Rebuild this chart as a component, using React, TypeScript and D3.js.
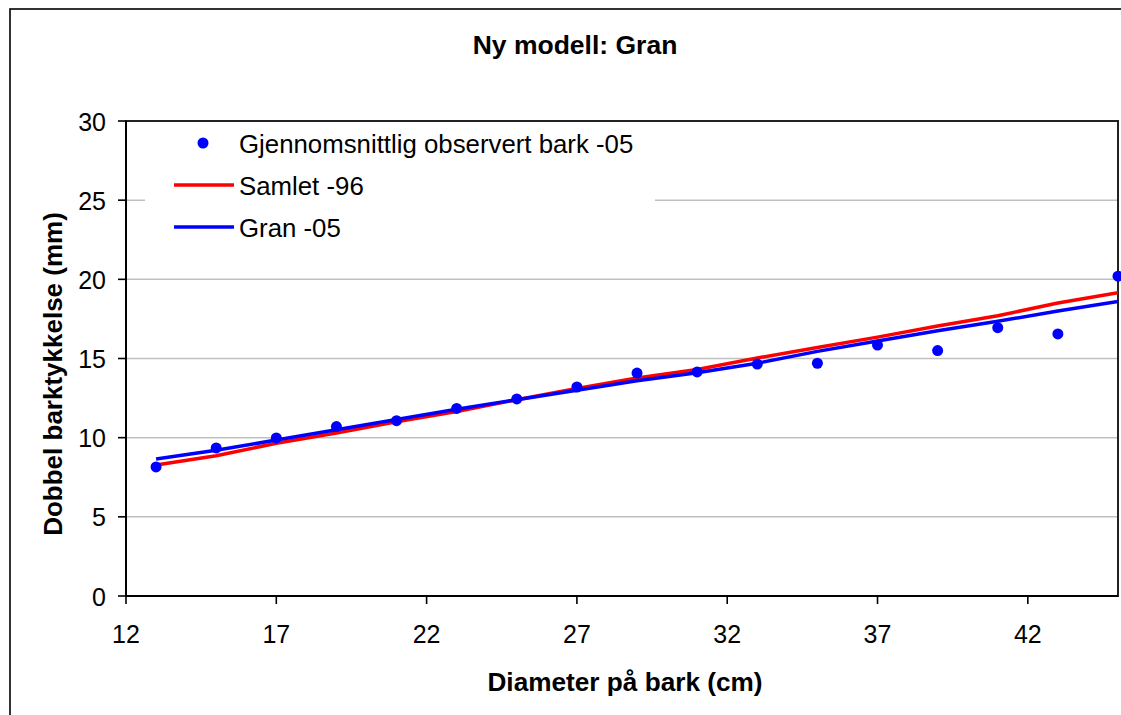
import React from "react";
import * as d3 from "d3";

const diameters = [13, 15, 17, 19, 21, 23, 25, 27, 29, 31, 33, 35, 37, 39, 41, 43, 45];
const observed = [8.15, 9.35, 9.98, 10.7, 11.07, 11.85, 12.45, 13.2, 14.08, 14.15, 14.65, 14.7, 15.85, 15.5, 16.95, 16.55, 20.2];
const samlet96 = [8.27, 8.86, 9.65, 10.3, 11.0, 11.65, 12.4, 13.1, 13.77, 14.3, 15.03, 15.7, 16.35, 17.05, 17.7, 18.5, 19.15];
const gran05 = [8.65, 9.2, 9.85, 10.5, 11.15, 11.8, 12.4, 13.0, 13.6, 14.1, 14.7, 15.45, 16.1, 16.75, 17.35, 18.0, 18.6];
const xTicks = [12, 17, 22, 27, 32, 37, 42];
const yTicks = [0, 5, 10, 15, 20, 25, 30];
const legendLabels = ["Gjennomsnittlig observert bark -05", "Samlet -96", "Gran -05"];

const FONT = "'Liberation Sans', Arial, sans-serif";

export default function App() {
  const W = 1121, H = 715;
  const left = 126, right = 1118, top = 121, bottom = 596;
  const x = d3.scaleLinear().domain([12, 45]).range([left, right]);
  const y = d3.scaleLinear().domain([0, 30]).range([bottom, top]);
  const line = d3.line<number>().x((_, i) => x(diameters[i])).y((d) => y(d));

  return (
    <svg width={W} height={H} style={{ position: "absolute", left: 0, top: 0, background: "#fff" }} fontFamily={FONT}>
      <defs>
        <clipPath id="plotclip">
          <rect x={left} y={top} width={right - left} height={bottom - top} />
        </clipPath>
      </defs>
      <rect x={0} y={0} width={W} height={H} fill="#fff" />
      {/* outer frame */}
      <rect x={10} y={9} width={1140} height={740} fill="none" stroke="#000" strokeWidth={1.6} />

      {/* gridlines */}
      {yTicks.filter((t) => t > 0 && t < 30).map((t) => (
        <line key={t} x1={left} x2={right} y1={y(t)} y2={y(t)} stroke="#c0c0c0" strokeWidth={1.5} />
      ))}

      {/* legend box (covers gridline) */}
      <rect x={145} y={123} width={510} height={125} fill="#fff" />

      {/* plot border */}
      <rect x={left} y={top} width={right - left} height={bottom - top} fill="none" stroke="#222" strokeWidth={2} />
      <line x1={left} x2={left} y1={top} y2={bottom} stroke="#000" strokeWidth={2} />
      <line x1={left} x2={right} y1={bottom} y2={bottom} stroke="#000" strokeWidth={2.2} />

      {/* ticks */}
      {yTicks.map((t) => (
        <g key={t}>
          <line x1={118} x2={left} y1={y(t)} y2={y(t)} stroke="#000" strokeWidth={1.6} />
          <text x={106} y={y(t) + 9.5} textAnchor="end" fontSize={25} fill="#000">{t}</text>
        </g>
      ))}
      {xTicks.map((t) => (
        <g key={t}>
          <line x1={x(t)} x2={x(t)} y1={bottom} y2={bottom + 8} stroke="#000" strokeWidth={1.6} />
          <text x={x(t)} y={643} textAnchor="middle" fontSize={25} fill="#000">{t}</text>
        </g>
      ))}

      {/* series */}
      <g clipPath="url(#plotclip)">
        <path d={line(samlet96) || ""} fill="none" stroke="#ff0000" strokeWidth={3.5} strokeLinejoin="round" />
        <path d={line(gran05) || ""} fill="none" stroke="#0000ff" strokeWidth={3.5} strokeLinejoin="round" />
      </g>
      {observed.map((v, i) => (
        <circle key={i} cx={x(diameters[i])} cy={y(v)} r={5.5} fill="#0000ff" />
      ))}

      {/* legend */}
      <circle cx={203} cy={143} r={5.5} fill="#0000ff" />
      <text x={239} y={153} fontSize={25.8} fill="#000">{legendLabels[0]}</text>
      <line x1={174} x2={234} y1={185} y2={185} stroke="#ff0000" strokeWidth={3.5} />
      <text x={239} y={195} fontSize={25.8} fill="#000">{legendLabels[1]}</text>
      <line x1={174} x2={234} y1={227} y2={227} stroke="#0000ff" strokeWidth={3.5} />
      <text x={239} y={237} fontSize={25.8} fill="#000">{legendLabels[2]}</text>

      {/* titles */}
      <text x={575} y={54} textAnchor="middle" fontSize={26.5} fontWeight="bold" fill="#000">Ny modell: Gran</text>
      <text x={625} y={691} textAnchor="middle" fontSize={26.2} fontWeight="bold" fill="#000">Diameter på bark (cm)</text>
      <text transform="translate(62,374) rotate(-90)" textAnchor="middle" fontSize={26} fontWeight="bold" fill="#000">Dobbel barktykkelse (mm)</text>
    </svg>
  );
}
